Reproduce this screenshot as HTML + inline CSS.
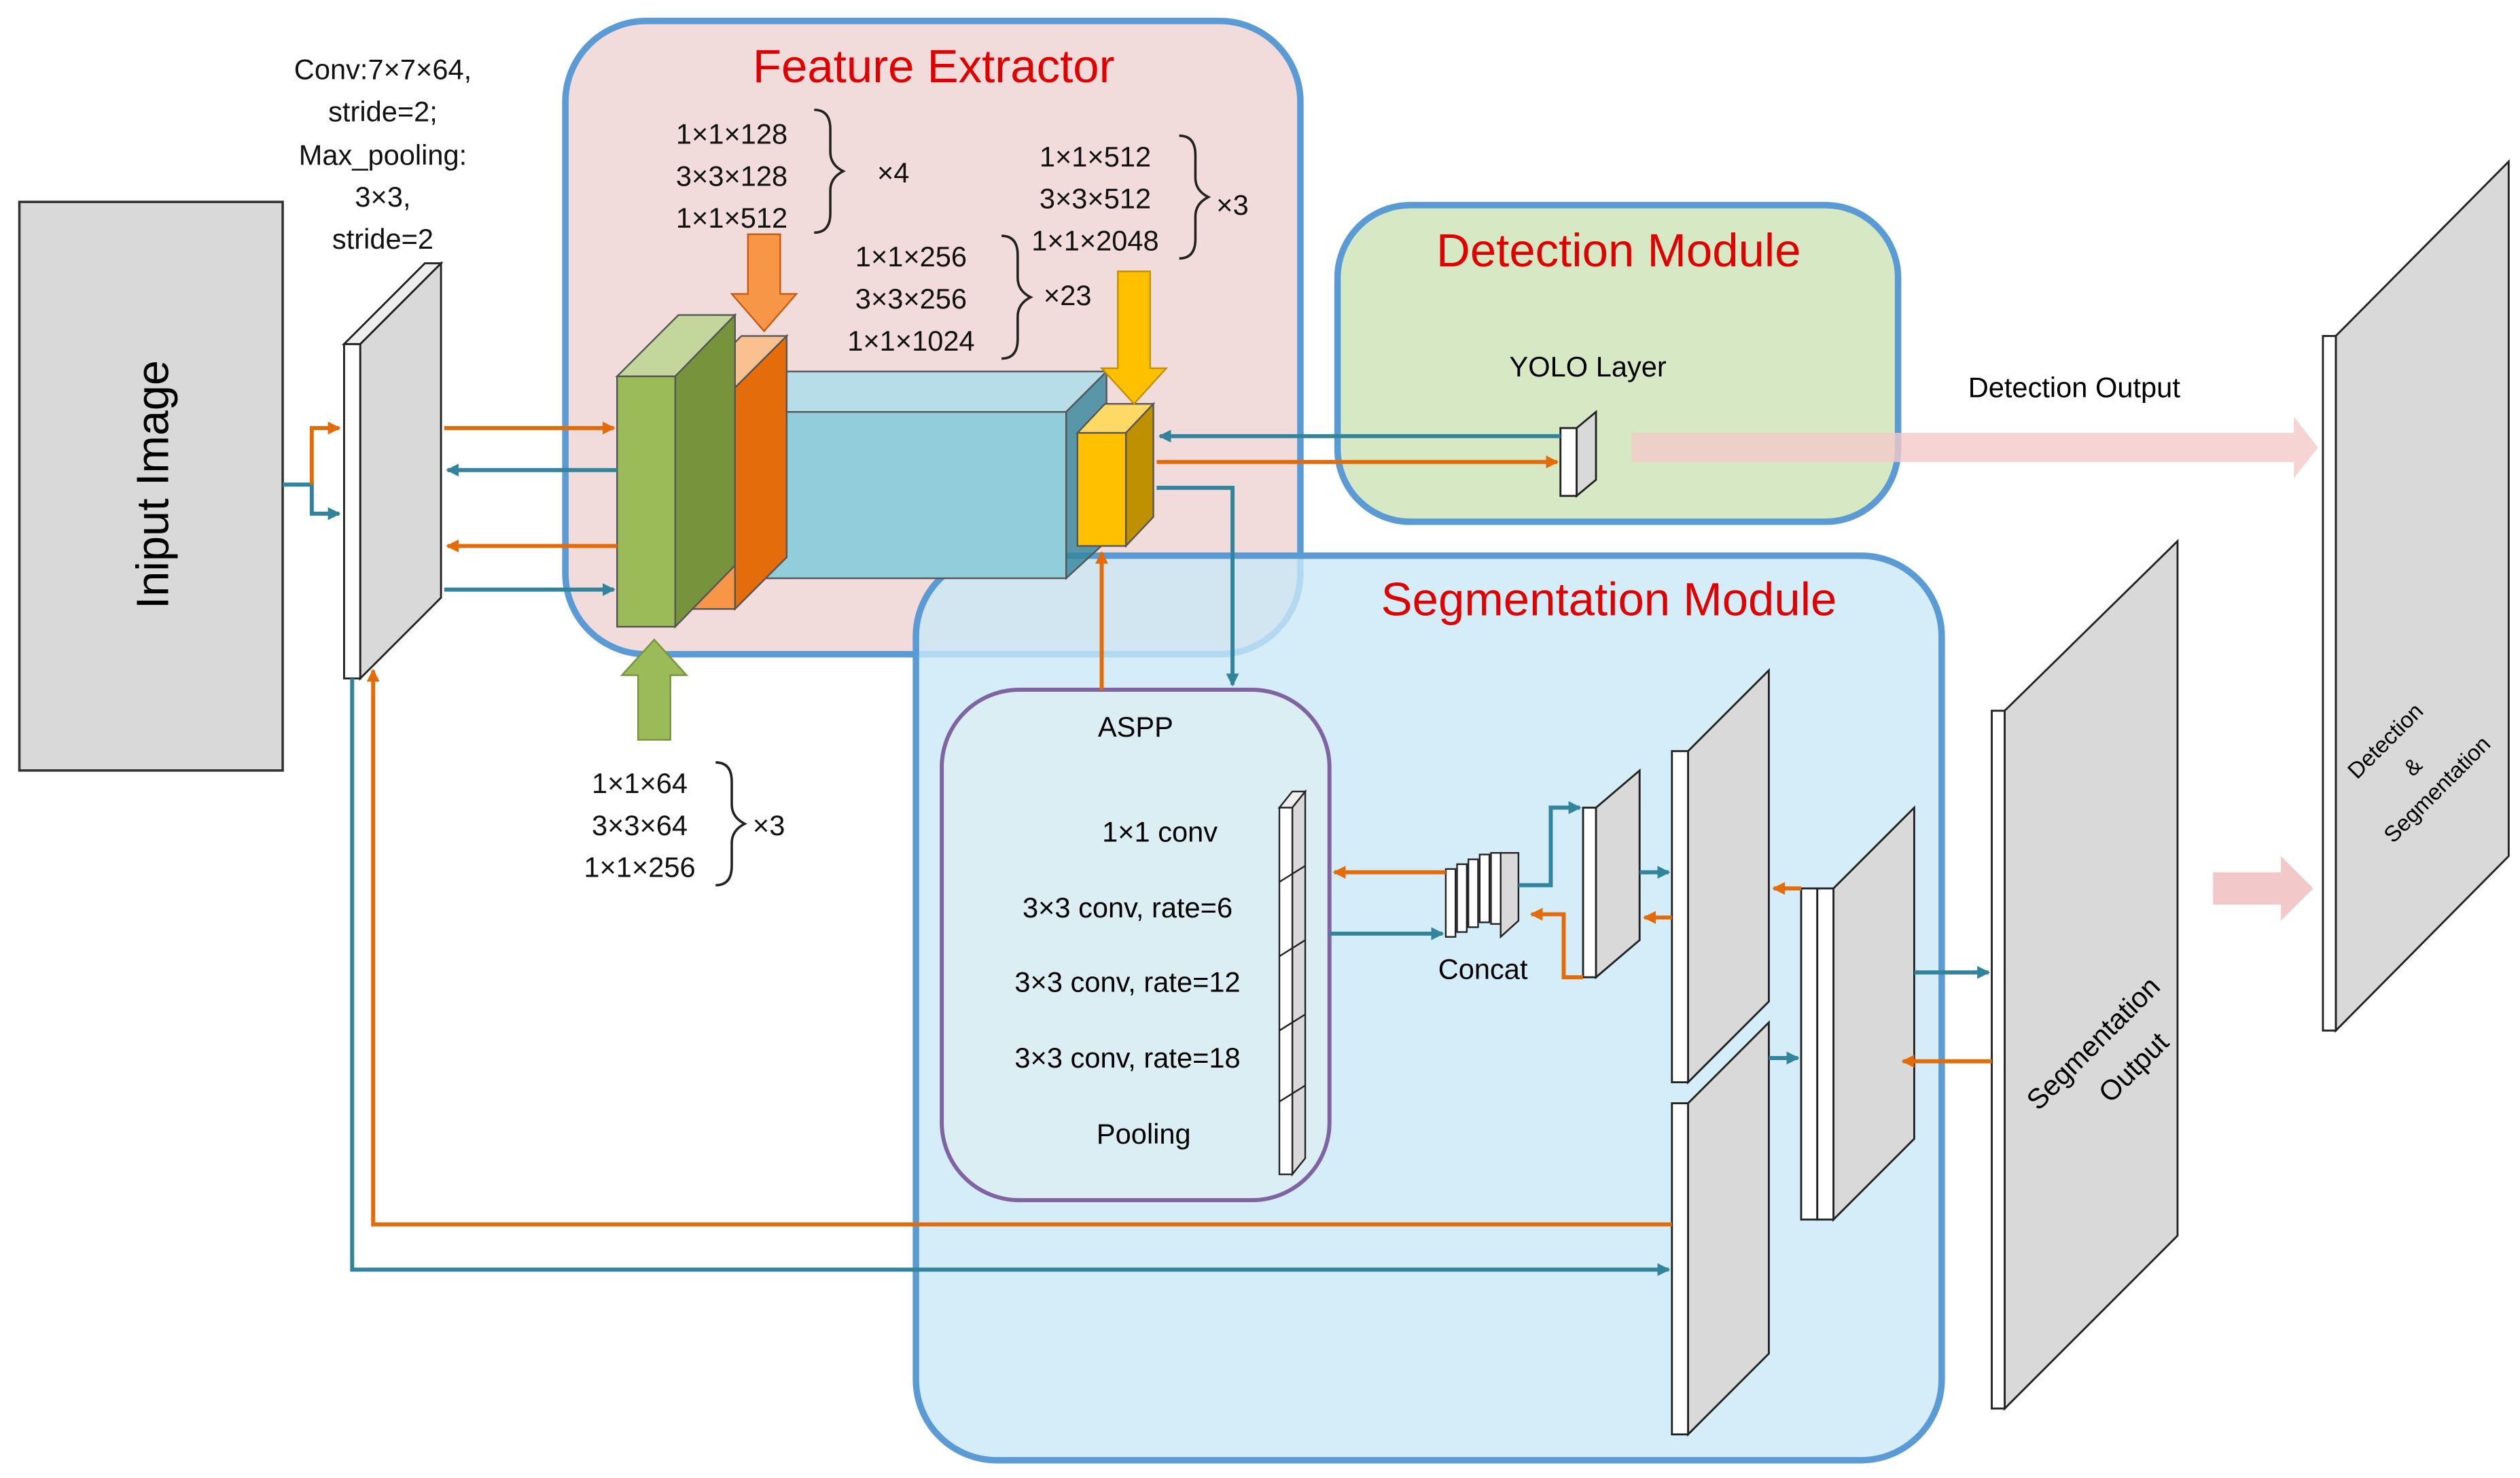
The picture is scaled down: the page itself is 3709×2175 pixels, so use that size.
<!DOCTYPE html>
<html><head><meta charset="utf-8"><style>html,body{margin:0;padding:0;background:#fff}svg{display:block}text{font-family:"Liberation Sans",sans-serif}</style></head>
<body>
<svg width="3709" height="2175" viewBox="0 0 1560 915" preserveAspectRatio="none" xmlns="http://www.w3.org/2000/svg">
<defs>
<marker id="at" markerWidth="8" markerHeight="8" refX="7" refY="4" orient="auto" markerUnits="userSpaceOnUse"><path d="M0,0 L8,4 L0,8 z" fill="#31849b"/></marker>
<marker id="ao" markerWidth="8" markerHeight="8" refX="7" refY="4" orient="auto" markerUnits="userSpaceOnUse"><path d="M0,0 L8,4 L0,8 z" fill="#e36c09"/></marker>
</defs>
<rect width="1560" height="915" fill="#fff"/>
<!-- modules -->
<rect x="350" y="13" width="455" height="392" rx="50" fill="#f2dcdb" stroke="#5b9bd5" stroke-width="4"/>
<rect x="828" y="127" width="347" height="196" rx="45" fill="#d7e9c4" stroke="#5b9bd5" stroke-width="4"/>
<rect x="567" y="344" width="635" height="560" rx="50" fill="#c9e9f8" fill-opacity="0.8" stroke="#5b9bd5" stroke-width="4"/>
<rect x="583" y="427" width="240" height="316" rx="48" fill="#dbeef4" stroke="#8064a2" stroke-width="2.5"/>
<text x="578" y="51" font-size="29" fill="#e00000" text-anchor="middle">Feature Extractor</text>
<text x="1002" y="165" font-size="29" fill="#e00000" text-anchor="middle">Detection Module</text>
<text x="996" y="381" font-size="29" fill="#e00000" text-anchor="middle">Segmentation Module</text>
<!-- input -->
<rect x="12" y="125" width="163" height="352" fill="#d9d9d9" stroke="#333" stroke-width="1.5"/>
<text transform="translate(104,300) rotate(-90)" font-size="28" text-anchor="middle">Iniput Image</text>
<g font-size="17.5" text-anchor="middle" fill="#111">
<text x="237" y="49">Conv:7×7×64,</text><text x="237" y="75">stride=2;</text><text x="237" y="102">Max_pooling:</text><text x="237" y="128">3×3,</text><text x="237" y="154">stride=2</text>
</g>
<!-- first plate -->
<g stroke="#222" stroke-width="1.2" fill="#d9d9d9">
<polygon points="223,213 273,163 273,370 223,420"/>
<rect x="213" y="213" width="10" height="207" fill="#fff"/>
<polygon points="213,213 263,163 273,163 223,213" fill="#eee"/>
</g>
<!-- blocks -->
<g stroke="#555" stroke-width="1">
<polygon points="455,255 487,230 685,230 660,255" fill="#b7dee8"/>
<polygon points="660,255 685,230 685,335 660,358" fill="#31849b" fill-opacity="0.8"/>
<rect x="455" y="255" width="205" height="103" fill="#92cddc"/>
<polygon points="427,240 459,208 487,208 455,240" fill="#fac090"/>
<polygon points="455,240 487,208 487,345 455,377" fill="#e46c0a"/>
<rect x="427" y="240" width="28" height="137" fill="#f79646"/>
<polygon points="382,233 420,195 455,195 418,233" fill="#c3d69b"/>
<polygon points="418,233 455,195 455,350 418,388" fill="#77933c"/>
<rect x="382" y="233" width="36" height="155" fill="#9bbb59"/>
<polygon points="667,268 684,250 714,250 697,268" fill="#ffd966"/>
<polygon points="697,268 714,250 714,320 697,338" fill="#bf9000"/>
<rect x="667" y="268" width="30" height="70" fill="#ffc000"/>
</g>
<!-- big arrows -->
<polygon points="463,145 483,145 483,182 493,182 473,205 453,182 463,182" fill="#f79646" stroke="#c55a11"/>
<polygon points="692,168 712,168 712,228 722,228 702,250 682,228 692,228" fill="#ffc000" stroke="#bf9000"/>
<polygon points="395,458 415,458 415,418 425,418 405,396 385,418 395,418" fill="#9bbb59" stroke="#77933c"/>
<!-- layer texts -->
<g font-size="17.5" text-anchor="middle" fill="#111">
<text x="453" y="89">1×1×128</text><text x="453" y="115">3×3×128</text><text x="453" y="141">1×1×512</text>
<text x="543" y="113" text-anchor="start">×4</text>
<text x="678" y="103">1×1×512</text><text x="678" y="129">3×3×512</text><text x="678" y="155">1×1×2048</text>
<text x="753" y="133" text-anchor="start">×3</text>
<text x="564" y="165">1×1×256</text><text x="564" y="191">3×3×256</text><text x="564" y="217">1×1×1024</text>
<text x="646" y="189" text-anchor="start">×23</text>
<text x="396" y="491">1×1×64</text><text x="396" y="517">3×3×64</text><text x="396" y="543">1×1×256</text>
<text x="466" y="517" text-anchor="start">×3</text>
</g>
<g fill="none" stroke="#222" stroke-width="1.5">
<path d="M504,68 q10,0 10,12 v14 q0,8 8,12 q-8,4 -8,12 v14 q0,12 -10,12"/>
<path d="M730,84 q10,0 10,12 v14 q0,8 8,12 q-8,4 -8,12 v14 q0,12 -10,12"/>
<path d="M620,146 q10,0 10,12 v14 q0,8 8,12 q-8,4 -8,12 v14 q0,12 -10,12"/>
<path d="M443,472 q10,0 10,12 v14 q0,8 8,12 q-8,4 -8,12 v14 q0,12 -10,12"/>
</g>
<!-- ASPP -->
<text x="703" y="456" font-size="17.5" text-anchor="middle">ASPP</text>
<g font-size="17.5" text-anchor="middle">
<text x="718" y="521">1×1 conv</text><text x="698" y="568">3×3 conv, rate=6</text><text x="698" y="614">3×3 conv, rate=12</text><text x="698" y="661">3×3 conv, rate=18</text><text x="708" y="708">Pooling</text>
</g>
<g stroke="#222" stroke-width="1" fill="#d9d9d9">
<polygon points="792,500 800,490 808,490 800,500" fill="#eee"/>
<polygon points="800,500 808,490 808,717 800,727"/>
<rect x="792" y="500" width="8" height="227" fill="#fff"/>
<line x1="792" y1="546" x2="808" y2="536"/><line x1="792" y1="592" x2="808" y2="582"/><line x1="792" y1="638" x2="808" y2="628"/><line x1="792" y1="682" x2="808" y2="672"/>
</g>
<!-- concat -->
<g stroke="#222" stroke-width="1" fill="#fff">
<rect x="895" y="538" width="6" height="42"/><rect x="902" y="535" width="6" height="42"/><rect x="909" y="532" width="6" height="42"/><rect x="916" y="529" width="6" height="42"/><rect x="923" y="528" width="6" height="44"/>
<polygon points="929,528 940,528 940,570 929,580" fill="#d9d9d9"/>
</g>
<text x="918" y="606" font-size="17.5" text-anchor="middle">Concat</text>
<!-- seg plates -->
<g stroke="#222" stroke-width="1.2" fill="#d9d9d9">
<polygon points="988,500 1015,477 1015,582 988,605"/><rect x="980" y="500" width="8" height="105" fill="#fff"/>
<polygon points="1045,465 1095,415 1095,620 1045,670"/><rect x="1035" y="465" width="10" height="205" fill="#fff"/>
<polygon points="1045,683 1095,633 1095,838 1045,888"/><rect x="1035" y="683" width="10" height="205" fill="#fff"/>
<polygon points="1135,550 1185,500 1185,705 1135,755"/><rect x="1115" y="550" width="10" height="205" fill="#fff"/><rect x="1125" y="550" width="10" height="205" fill="#fff"/>
<polygon points="1241,440 1348,335 1348,765 1241,872"/><rect x="1233" y="440" width="8" height="432" fill="#fff"/>
<polygon points="1446,208 1553,100 1553,530 1446,638"/><rect x="1438" y="208" width="8" height="430" fill="#fff"/>
<polygon points="976,265 988,255 988,297 976,307"/><rect x="966" y="265" width="10" height="42" fill="#fff"/>
</g>
<text transform="translate(1300,650) rotate(-45)" font-size="17.5" text-anchor="middle">Segmentation</text>
<text transform="translate(1325,665) rotate(-45)" font-size="17.5" text-anchor="middle">Output</text>
<text transform="translate(1480,462) rotate(-45)" font-size="14" text-anchor="middle">Detection</text>
<text transform="translate(1497,478) rotate(-45)" font-size="14" text-anchor="middle">&amp;</text>
<text transform="translate(1512,492) rotate(-45)" font-size="14" text-anchor="middle">Segmentation</text>
<text x="983" y="233" font-size="17.5" text-anchor="middle">YOLO Layer</text>
<text x="1284" y="246" font-size="17.5" text-anchor="middle">Detection Output</text>
<!-- pink arrows -->
<polygon points="1010,268 1420,268 1420,258 1435,277 1420,296 1420,286 1010,286" fill="#f2c9c8" fill-opacity="0.8"/>
<polygon points="1370,540 1412,540 1412,530 1432,550 1412,570 1412,560 1370,560" fill="#f2c9c8"/>
<!-- connectors -->
<g fill="none" stroke-width="2.5">
<path d="M175,300 H193 V318 H210" stroke="#31849b" marker-end="url(#at)"/>
<path d="M193,300 V265 H210" stroke="#e36c09" marker-end="url(#ao)"/>
<path d="M275,265 H380" stroke="#e36c09" marker-end="url(#ao)"/>
<path d="M382,291 H277" stroke="#31849b" marker-end="url(#at)"/>
<path d="M382,338 H277" stroke="#e36c09" marker-end="url(#ao)"/>
<path d="M275,365 H380" stroke="#31849b" marker-end="url(#at)"/>
<path d="M966,270 H718" stroke="#31849b" marker-end="url(#at)"/>
<path d="M716,286 H964" stroke="#e36c09" marker-end="url(#ao)"/>
<path d="M716,302 H763 V424" stroke="#31849b" marker-end="url(#at)"/>
<path d="M682,427 V342" stroke="#e36c09" marker-end="url(#ao)"/>
<path d="M895,540 H826" stroke="#e36c09" marker-end="url(#ao)"/>
<path d="M823,578 H893" stroke="#31849b" marker-end="url(#at)"/>
<path d="M940,548 H960 V500 H978" stroke="#31849b" marker-end="url(#at)"/>
<path d="M980,605 H968 V566 H948" stroke="#e36c09" marker-end="url(#ao)"/>
<path d="M1015,540 H1033" stroke="#31849b" marker-end="url(#at)"/>
<path d="M1035,568 H1018" stroke="#e36c09" marker-end="url(#ao)"/>
<path d="M1095,655 H1113" stroke="#31849b" marker-end="url(#at)"/>
<path d="M1115,550 H1098" stroke="#e36c09" marker-end="url(#ao)"/>
<path d="M1185,602 H1231" stroke="#31849b" marker-end="url(#at)"/>
<path d="M1233,657 H1178" stroke="#e36c09" marker-end="url(#ao)"/>
<path d="M1035,758 H231 V415" stroke="#e36c09" marker-end="url(#ao)"/>
<path d="M218,420 V786 H1033" stroke="#31849b" marker-end="url(#at)"/>
</g>
</svg>
</body></html>
